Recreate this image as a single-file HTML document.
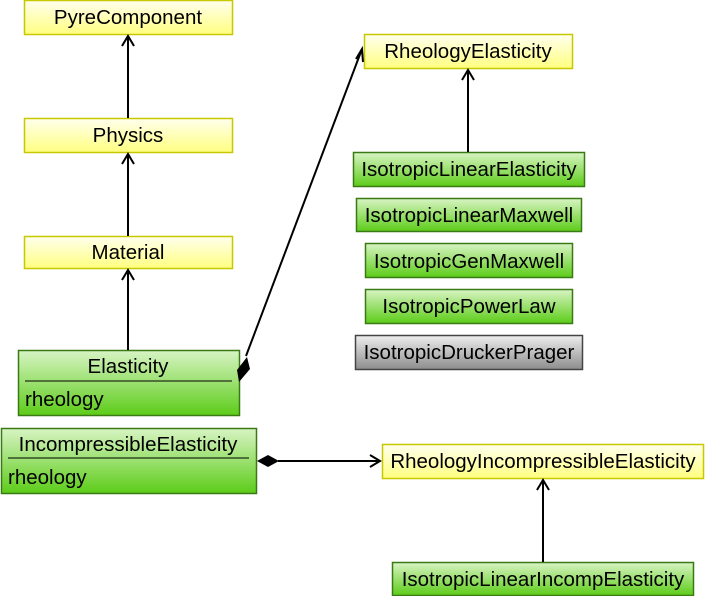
<!DOCTYPE html>
<html><head><meta charset="utf-8"><style>
html,body{margin:0;padding:0;background:#fff;}
text{font-family:"Liberation Sans",sans-serif;font-size:20.5px;fill:#000;}
</style></head><body>
<svg width="705" height="596" xmlns="http://www.w3.org/2000/svg">
<defs>
<linearGradient id="y" x1="0" y1="0" x2="0" y2="1"><stop offset="0" stop-color="#ffffee"/><stop offset="1" stop-color="#ffff80"/></linearGradient>
<linearGradient id="g" x1="0" y1="0" x2="0" y2="1"><stop offset="0" stop-color="#d8f4c4"/><stop offset="1" stop-color="#5ccc18"/></linearGradient>
<linearGradient id="gr" x1="0" y1="0" x2="0" y2="1"><stop offset="0" stop-color="#eeeeee"/><stop offset="1" stop-color="#8c8c8c"/></linearGradient>
</defs>
<g stroke="#c8c800" stroke-width="1.5" fill="url(#y)">
<rect x="24.5" y="0.5" width="208" height="34"/>
<rect x="24.5" y="118.5" width="208" height="34"/>
<rect x="24.5" y="236.5" width="208" height="32"/>
<rect x="364.5" y="34.5" width="208" height="34"/>
<rect x="382.5" y="444.5" width="321" height="34"/>
</g>
<g stroke="#3a7a14" stroke-width="1.5" fill="url(#g)">
<rect x="18.5" y="350.5" width="221" height="65"/>
<rect x="1.5" y="428.5" width="255" height="65"/>
<rect x="353.5" y="152.5" width="231" height="34"/>
<rect x="356.5" y="198.5" width="225" height="33"/>
<rect x="365.5" y="243.5" width="207" height="34"/>
<rect x="365.5" y="289.5" width="207" height="34"/>
<rect x="392.5" y="562.5" width="301" height="33"/>
</g>
<rect x="355.5" y="335.5" width="227" height="34" fill="url(#gr)" stroke="#444" stroke-width="1.5"/>
<g stroke="#000" stroke-width="1">
<line x1="25" y1="381" x2="232" y2="381"/>
<line x1="8" y1="458" x2="249" y2="458"/>
</g>
<g text-anchor="middle">
<text x="128" y="24">PyreComponent</text>
<text x="128" y="142">Physics</text>
<text x="128" y="259">Material</text>
<text x="128" y="373">Elasticity</text>
<text x="128" y="451">IncompressibleElasticity</text>
<text x="468" y="58">RheologyElasticity</text>
<text x="469" y="176">IsotropicLinearElasticity</text>
<text x="469" y="222">IsotropicLinearMaxwell</text>
<text x="469" y="268">IsotropicGenMaxwell</text>
<text x="469" y="313">IsotropicPowerLaw</text>
<text x="469" y="359">IsotropicDruckerPrager</text>
<text x="543" y="468">RheologyIncompressibleElasticity</text>
<text x="543" y="586">IsotropicLinearIncompElasticity</text>
</g>
<text x="25" y="406">rheology</text>
<text x="8" y="484">rheology</text>
<g stroke="#000" stroke-width="2" fill="none">
<line x1="128" y1="118" x2="128" y2="36"/><polyline points="122,46 128,36 134,46"/>
<line x1="128" y1="236" x2="128" y2="154"/><polyline points="122,164 128,154 134,164"/>
<line x1="128" y1="350" x2="128" y2="270"/><polyline points="122,280 128,270 134,280"/>
<line x1="468" y1="152" x2="468" y2="70"/><polyline points="462,80 468,70 474,80"/>
<line x1="543" y1="562" x2="543" y2="480"/><polyline points="537,490 543,480 549,490"/>
<line x1="246" y1="356" x2="362" y2="49"/><polyline points="356,59 362,49 363,62"/>
<line x1="278" y1="461" x2="380" y2="461"/><polyline points="370,455 380,461 370,467"/>
</g>
<polygon points="239,382 237,370 247,357 250,369" fill="#000"/>
<polygon points="257,461 268,455 279,461 268,467" fill="#000"/>
</svg>
</body></html>
